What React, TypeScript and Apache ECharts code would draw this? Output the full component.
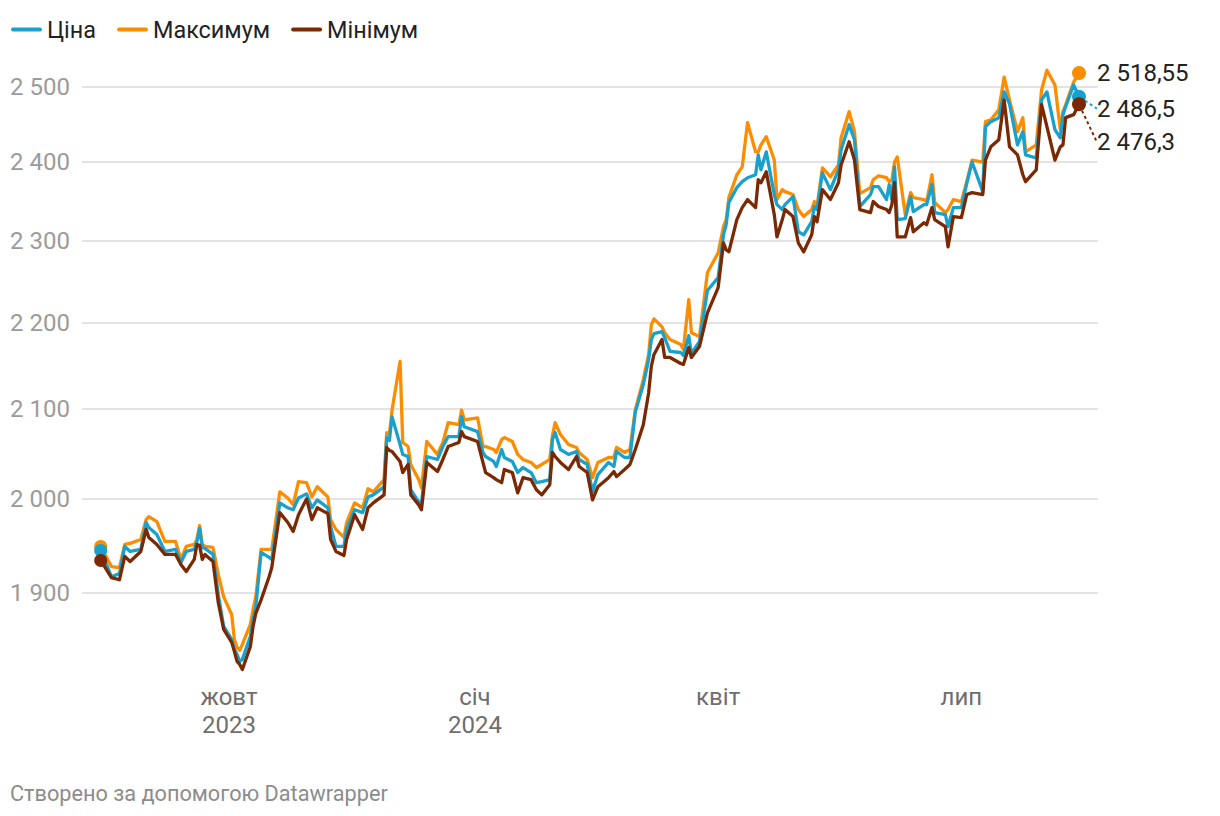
import React, { useEffect, useRef } from 'react';
import * as echarts from 'echarts';

const dates = [
  '2023-08-14','2023-08-18','2023-08-21','2023-08-23','2023-08-25','2023-08-29','2023-08-31','2023-09-01','2023-09-04','2023-09-07',
  '2023-09-11','2023-09-13','2023-09-15','2023-09-18','2023-09-19','2023-09-20','2023-09-21','2023-09-22','2023-09-25','2023-09-27',
  '2023-09-29','2023-10-02','2023-10-03','2023-10-04','2023-10-05','2023-10-06','2023-10-09','2023-10-10','2023-10-11','2023-10-13',
  '2023-10-16','2023-10-17','2023-10-20','2023-10-23','2023-10-25','2023-10-27','2023-10-30','2023-11-01','2023-11-03','2023-11-07',
  '2023-11-08','2023-11-10','2023-11-13','2023-11-14','2023-11-17','2023-11-20','2023-11-22','2023-11-24','2023-11-28','2023-11-29',
  '2023-11-30','2023-12-01','2023-12-04','2023-12-05','2023-12-07','2023-12-08','2023-12-11','2023-12-12','2023-12-14','2023-12-18',
  '2023-12-20','2023-12-22','2023-12-26','2023-12-27','2023-12-28','2024-01-02','2024-01-04','2024-01-05','2024-01-08','2024-01-09',
  '2024-01-11','2024-01-12','2024-01-15','2024-01-17','2024-01-19','2024-01-22','2024-01-24','2024-01-26','2024-01-29','2024-01-30',
  '2024-01-31','2024-02-02','2024-02-05','2024-02-08','2024-02-09','2024-02-12','2024-02-14','2024-02-16','2024-02-20','2024-02-22',
  '2024-02-23','2024-02-26','2024-02-28','2024-03-01','2024-03-04','2024-03-06','2024-03-07','2024-03-08','2024-03-11','2024-03-12',
  '2024-03-14','2024-03-18','2024-03-19','2024-03-21','2024-03-22','2024-03-25','2024-03-28','2024-04-01','2024-04-03','2024-04-04',
  '2024-04-05','2024-04-08','2024-04-10','2024-04-12','2024-04-15','2024-04-16','2024-04-17','2024-04-19','2024-04-22','2024-04-23',
  '2024-04-25','2024-04-26','2024-04-29','2024-05-01','2024-05-03','2024-05-06','2024-05-07','2024-05-08','2024-05-10','2024-05-13',
  '2024-05-16','2024-05-17','2024-05-20','2024-05-22','2024-05-24','2024-05-28','2024-05-29','2024-05-31','2024-06-03','2024-06-04',
  '2024-06-05','2024-06-06','2024-06-07','2024-06-10','2024-06-12','2024-06-13','2024-06-17','2024-06-18','2024-06-20','2024-06-21',
  '2024-06-25','2024-06-26','2024-06-28','2024-07-01','2024-07-03','2024-07-05','2024-07-09','2024-07-10','2024-07-12','2024-07-15',
  '2024-07-17','2024-07-19','2024-07-22','2024-07-24','2024-07-25','2024-07-29','2024-07-31','2024-08-02','2024-08-05','2024-08-07',
  '2024-08-08','2024-08-09','2024-08-12','2024-08-14',
];

const highValues = [
  1948.8,1927.7,1926.6,1950.9,1952.0,1956.2,1977.4,1980.5,1975.2,1954.1,
  1954.1,1935.1,1948.8,1950.9,1956.2,1971.0,1950.9,1948.8,1947.8,1919.2,
  1896.2,1878.2,1853.1,1845.1,1842.1,1848.1,1868.2,1883.2,1896.2,1945.7,
  1945.7,1945.7,2007.3,2000.6,1993.2,2018.4,2017.3,2001.7,2012.8,2001.7,
  1977.4,1966.8,1958.3,1974.2,1995.3,1990.0,2010.6,2007.3,2020.6,2072.8,
  2070.6,2098.3,2154.2,2061.7,2057.2,2037.3,2020.6,2011.7,2062.8,2048.4,
  2061.7,2083.9,2081.7,2098.3,2087.2,2089.4,2057.2,2057.2,2053.9,2050.6,
  2065.0,2067.2,2062.8,2048.4,2042.8,2039.5,2033.9,2037.3,2042.8,2069.4,
  2083.9,2070.6,2059.5,2056.1,2050.6,2042.8,2022.8,2039.5,2045.0,2045.0,
  2056.1,2050.6,2053.9,2098.3,2133.2,2162.4,2197.3,2204.5,2195.0,2188.0,
  2179.9,2174.0,2168.2,2227.6,2188.0,2183.4,2260.5,2284.8,2317.4,2326.3,
  2354.2,2383.5,2393.7,2451.8,2413.2,2413.2,2422.5,2433.2,2402.6,2351.7,
  2364.4,2361.9,2358.1,2339.0,2330.1,2339.0,2349.2,2342.8,2392.4,2381.0,
  2396.2,2431.8,2466.4,2439.8,2359.3,2367.0,2377.1,2382.2,2379.7,2374.6,
  2377.1,2400.0,2406.6,2332.6,2360.6,2354.2,2351.7,2349.2,2383.5,2347.9,
  2335.2,2339.0,2351.7,2349.2,2374.6,2402.6,2400.0,2453.1,2455.7,2469.0,
  2513.0,2482.3,2439.8,2458.4,2413.2,2422.5,2495.6,2522.4,2502.3,2442.5,
  2466.4,2475.7,2506.3,2518.55,
];

const priceValues = [
  1944.6,1917.1,1920.3,1948.8,1943.5,1945.6,1974.2,1968.9,1961.5,1943.5,
  1945.6,1931.9,1943.5,1945.6,1954.1,1967.8,1947.8,1946.7,1940.4,1898.2,
  1866.1,1853.1,1843.1,1838.1,1831.1,1833.1,1856.1,1873.2,1885.2,1942.5,
  1937.2,1935.1,1995.3,1990.0,1987.9,2000.6,2005.1,1990.0,1998.5,1990.0,
  1969.9,1948.8,1948.8,1966.8,1987.9,1984.8,2001.7,2004.0,2012.8,2067.2,
  2063.9,2090.5,2059.4,2048.4,2046.1,2009.5,1996.4,1994.3,2046.1,2042.8,
  2057.2,2068.3,2068.3,2090.5,2079.4,2073.9,2050.6,2046.1,2040.6,2035.0,
  2053.9,2045.0,2040.6,2028.4,2033.9,2028.4,2017.3,2018.4,2020.6,2065.0,
  2072.8,2053.9,2048.4,2051.7,2042.8,2037.3,2007.3,2026.2,2039.5,2035.0,
  2051.7,2045.0,2045.0,2096.1,2127.4,2156.5,2179.9,2186.9,2189.2,2182.2,
  2165.9,2164.7,2161.2,2184.5,2163.5,2177.5,2238.6,2254.4,2307.2,2319.9,
  2347.9,2367.0,2374.6,2379.7,2383.5,2409.3,2389.9,2413.2,2358.1,2345.3,
  2339.0,2345.3,2355.5,2311.0,2307.2,2323.7,2342.8,2339.0,2386.0,2364.4,
  2389.9,2415.9,2449.1,2429.2,2342.8,2358.1,2368.2,2368.2,2351.7,2370.8,
  2351.7,2393.7,2326.3,2327.5,2355.5,2336.5,2345.3,2345.3,2370.8,2335.2,
  2332.6,2317.4,2341.5,2341.5,2372.0,2400.0,2361.9,2446.4,2453.1,2458.4,
  2492.9,2477.0,2422.5,2439.8,2409.3,2405.3,2482.3,2492.9,2442.5,2431.8,
  2462.4,2473.0,2502.3,2486.5,
];

const lowValues = [
  1934.0,1916.1,1913.9,1938.3,1932.9,1943.5,1966.8,1958.3,1950.9,1940.4,
  1940.4,1929.8,1922.4,1935.1,1950.9,1949.9,1935.1,1940.4,1932.9,1890.2,
  1863.1,1850.1,1841.1,1831.1,1828.1,1823.1,1846.1,1866.1,1879.2,1893.2,
  1917.1,1926.6,1984.8,1974.2,1964.7,1982.6,1999.6,1977.4,1990.0,1983.7,
  1956.2,1943.5,1939.3,1956.2,1982.6,1966.8,1990.0,1995.3,2004.0,2056.1,
  2052.8,2051.7,2040.6,2028.4,2037.3,2004.0,1993.2,1987.9,2039.5,2029.5,
  2042.8,2057.2,2061.7,2073.9,2068.3,2062.8,2039.5,2028.4,2022.8,2020.6,
  2017.3,2031.7,2028.4,2006.2,2022.8,2020.6,2009.5,2004.0,2015.1,2050.6,
  2046.1,2039.5,2031.7,2046.1,2035.0,2028.4,1998.5,2012.8,2022.8,2029.5,
  2023.9,2031.7,2037.3,2053.9,2081.6,2118.1,2148.4,2162.4,2179.9,2158.9,
  2158.9,2151.9,2150.7,2170.5,2158.9,2171.7,2211.8,2242.2,2297.0,2288.5,
  2286.1,2326.3,2341.5,2351.7,2341.5,2377.1,2373.3,2387.3,2332.6,2304.6,
  2326.3,2339.0,2330.1,2297.0,2286.1,2307.2,2330.1,2323.7,2364.4,2351.7,
  2373.3,2396.2,2426.5,2402.6,2339.0,2335.2,2349.2,2342.8,2339.0,2335.2,
  2345.3,2373.3,2304.6,2304.6,2328.8,2311.0,2322.4,2319.9,2341.5,2326.3,
  2317.4,2292.2,2330.1,2328.8,2358.1,2360.6,2358.1,2402.6,2419.9,2429.2,
  2482.3,2419.9,2409.3,2383.5,2374.6,2389.9,2475.7,2446.4,2402.6,2419.9,
  2422.5,2458.4,2462.4,2476.3,
];

const seriesNames = ['Ціна', 'Максимум', 'Мінімум'];
const yTicks = [1900, 2000, 2100, 2200, 2300, 2400, 2500];
const xTickDates = ['2023-10-01', '2024-01-01', '2024-04-01', '2024-07-01'];
const xTickLabels = ['жовт\n2023', 'січ\n2024', 'квіт', 'лип'];
const footerText = 'Створено за допомогою Datawrapper';

const FONT = 'Roboto, "Noto Sans", sans-serif';

function ts(s: string): number {
  const [y, m, d] = s.split('-').map(Number);
  return Date.UTC(y, m - 1, d);
}

function fmtNum(v: number): string {
  const [i, f] = String(v).split('.');
  const g = i.replace(/\B(?=(\d{3})+(?!\d))/g, ' ');
  return f ? g + ',' + f : g;
}

function buildData(vals: number[], dotSize: number, label: any) {
  return vals.map((v, i) => {
    const value = [ts(dates[i]), v];
    if (i === 0) return { value, symbol: 'circle', symbolSize: dotSize };
    if (i === vals.length - 1) {
      return { value, symbol: 'circle', symbolSize: dotSize + 1, label };
    }
    return value;
  });
}

export default function App() {
  const ref = useRef<HTMLDivElement>(null);

  useEffect(() => {
    if (!ref.current) return;
    const chart = echarts.init(ref.current, null, { renderer: 'svg' });
    const xTicks = xTickDates.map(ts);
    const colors: Record<string, string> = { 'Ціна': '#1aa0cd', 'Максимум': '#fd8d00', 'Мінімум': '#7b2804' };

    const endLabel = (v: number) => ({
      show: true,
      position: 'right',
      distance: 11,
      formatter: fmtNum(v),
      color: '#222',
      fontSize: 24,
      fontFamily: FONT,
    });

    const mkSeries = (name: string, vals: number[], dy: number, guide: boolean) => ({
      name,
      type: 'line',
      data: buildData(vals, 13, endLabel(vals[vals.length - 1])),
      symbol: 'none',
      showSymbol: true,
      showAllSymbol: true,
      color: colors[name],
      itemStyle: { color: colors[name] },
      lineStyle: { width: 3.3, color: colors[name], join: 'round', cap: 'round' },
      labelLayout: { dy },
      labelLine: guide
        ? { show: true, lineStyle: { width: 2, type: [3, 3], color: colors[name] } }
        : { show: false },
      emphasis: { disabled: true },
      animation: false,
    });

    chart.setOption({
      animation: false,
      grid: {
        left: 82,
        right: 122.3,
        top: 57.4,
        bottom: 133.2,
        containLabel: false,
        outerBoundsMode: 'none',
      },
      legend: {
        data: seriesNames,
        left: 11,
        top: 18,
        padding: 0,
        itemWidth: 31,
        itemHeight: 4,
        itemGap: 21,
        icon: 'path://M2,0 L29,0 A2,2 0 0 1 29,4 L2,4 A2,2 0 0 1 2,0 Z',
        textStyle: { fontSize: 23.4, color: '#222', fontFamily: FONT },
        selectedMode: false,
      },
      xAxis: {
        type: 'value',
        min: ts('2023-08-07'),
        max: ts('2024-08-21'),
        axisLine: { show: false },
        axisTick: { show: false, customValues: xTicks },
        splitLine: { show: false },
        axisLabel: {
          customValues: xTicks,
          formatter: (v: number) => {
            const idx = xTicks.findIndex((t) => Math.abs(t - v) < 86400000);
            return idx >= 0 ? xTickLabels[idx] : '';
          },
          color: '#6e6e6e',
          fontSize: 24,
          lineHeight: 28,
          margin: 0,
          fontFamily: FONT,
        },
      },
      yAxis: {
        type: 'log',
        logBase: 10,
        min: 1810,
        max: 2540,
        axisLine: { show: false },
        axisTick: { show: false, customValues: yTicks },
        axisLabel: {
          customValues: yTicks,
          formatter: (v: number) => fmtNum(Math.round(v)),
          color: '#9b9b9b',
          fontSize: 24,
          margin: 12,
          fontFamily: FONT,
        },
        splitLine: { show: true, lineStyle: { color: '#e3e3e3', width: 2 } },
      },
      series: [
        mkSeries('Максимум', highValues, 0, false),
        mkSeries('Ціна', priceValues, 12, true),
        mkSeries('Мінімум', lowValues, 38, true),
      ],
      graphic: [
        {
          type: 'text',
          left: 10,
          top: 782,
          style: { text: footerText, fontSize: 21.7, fill: '#8c8c8c', fontFamily: FONT },
        },
      ],
    });

    return () => chart.dispose();
  }, []);

  return (
    <div
      ref={ref}
      style={{ position: 'absolute', left: 0, top: 0, width: 1220, height: 816, background: '#fff' }}
    />
  );
}
